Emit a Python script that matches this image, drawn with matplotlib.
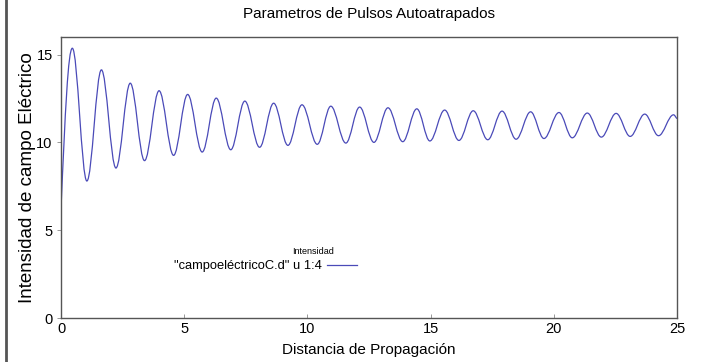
"""
Damped oscillation of the electric field intensity along the propagation
distance, drawn as a smooth curve through its turning points.
"""

import matplotlib
matplotlib.use("Agg")
import matplotlib.pyplot as plt
from matplotlib.path import Path
from matplotlib.patches import PathPatch
from matplotlib.lines import Line2D

plt.rcParams["font.family"] = ["Liberation Sans", "DejaVu Sans"]

# starting value and end value of the trace
x_start, y_start = 0.0, 6.2
x_end, y_end = 25.0, 11.35

# alternating maxima / minima of the intensity
peak_x = [0.46, 1.64, 2.81, 3.98, 5.14, 6.30, 7.46, 8.63, 9.78, 10.95, 12.12,
          13.27, 14.44, 15.57, 16.73, 17.90, 19.06, 20.21, 21.36, 22.53, 23.69, 24.86]
peak_y = [15.36, 14.13, 13.37, 12.94, 12.73, 12.52, 12.35, 12.23, 12.14, 12.06, 12.01,
          11.97, 11.91, 11.84, 11.80, 11.78, 11.74, 11.70, 11.67, 11.65, 11.61, 11.57]
trough_x = [1.05, 2.23, 3.39, 4.57, 5.73, 6.89, 8.06, 9.21, 10.40, 11.56, 12.70,
            13.87, 14.97, 16.15, 17.32, 18.47, 19.60, 20.75, 21.93, 23.10, 24.25]
trough_y = [7.80, 8.54, 8.96, 9.26, 9.45, 9.58, 9.72, 9.83, 9.89, 9.96, 10.00,
            10.04, 10.08, 10.11, 10.15, 10.18, 10.22, 10.26, 10.30, 10.34, 10.38]

x_ticks = [0, 5, 10, 15, 20, 25]
y_ticks = [0, 5, 10, 15]

LINE_COLOR = "#4a4ab8"
K = 0.3642  # bezier handle fraction that approximates a half sine


def turning_points():
    pts = []
    for i in range(len(peak_x)):
        pts.append((peak_x[i], peak_y[i]))
        if i < len(trough_x):
            pts.append((trough_x[i], trough_y[i]))
    return pts


def build_path():
    pts = turning_points()
    verts = [(x_start, y_start)]
    codes = [Path.MOVETO]

    # first rise: leaves the start point heading straight for the first peak
    x1, y1 = pts[0]
    dx = x1 - x_start
    verts += [(x_start + K * dx, y_start + 0.6 * (y1 - y_start)),
              (x1 - K * dx, y1), (x1, y1)]
    codes += [Path.CURVE4] * 3

    # flat tangents at every turning point
    for (xa, ya), (xb, yb) in zip(pts[:-1], pts[1:]):
        dx = xb - xa
        verts += [(xa + K * dx, ya), (xb - K * dx, yb), (xb, yb)]
        codes += [Path.CURVE4] * 3

    # last fall from the final peak to the end of the trace
    xa, ya = pts[-1]
    dx = x_end - xa
    verts += [(xa + K * dx, ya), (x_end - K * dx, y_end + 0.3 * (ya - y_end)), (x_end, y_end)]
    codes += [Path.CURVE4] * 3
    return Path(verts, codes)


fig = plt.figure(figsize=(7.01, 3.62), dpi=100)
ax = fig.add_axes([61 / 701, 44 / 362, 616 / 701, 281 / 362])

ax.add_patch(PathPatch(build_path(), fill=False, edgecolor=LINE_COLOR, lw=0.9))

ax.set_xlim(0, 25)
ax.set_ylim(0, 16)
ax.set_xticks(x_ticks)
ax.set_yticks(y_ticks)
ax.tick_params(axis="x", direction="in", length=3, width=0.6, color="#888888",
               labelsize=10.5, pad=3)
ax.tick_params(axis="y", direction="out", length=3, width=0.6, color="#888888",
               labelsize=10.5, pad=3)
for s in ax.spines.values():
    s.set_color("#555555")
    s.set_linewidth(1.0)

ax.set_title("Parametros de Pulsos Autoatrapados", fontsize=11, pad=14)
ax.set_xlabel("Distancia de Propagación", fontsize=11, labelpad=5)
ax.set_ylabel("Intensidad de campo Eléctrico", fontsize=13.5, labelpad=0)

handle = Line2D([], [], color=LINE_COLOR, lw=0.9)
ax.legend([handle], ['"campoeléctricoC.d" u 1:4'], loc="center left",
          bbox_to_anchor=(174 / 701, 1 - 266 / 362), bbox_transform=fig.transFigure,
          frameon=False, markerfirst=False, fontsize=9.3, handlelength=2.3,
          handletextpad=0.4, borderpad=0, borderaxespad=0)
fig.text(313 / 701, 1 - 251 / 362, "Intensidad", fontsize=6.5, ha="center", va="center")

# thin frame line down the left edge of the image
fig.add_artist(Line2D([6 / 701, 6 / 701], [0, 1], transform=fig.transFigure,
                      color="#555555", lw=2.0))

fig.savefig("out.png", dpi=100)
